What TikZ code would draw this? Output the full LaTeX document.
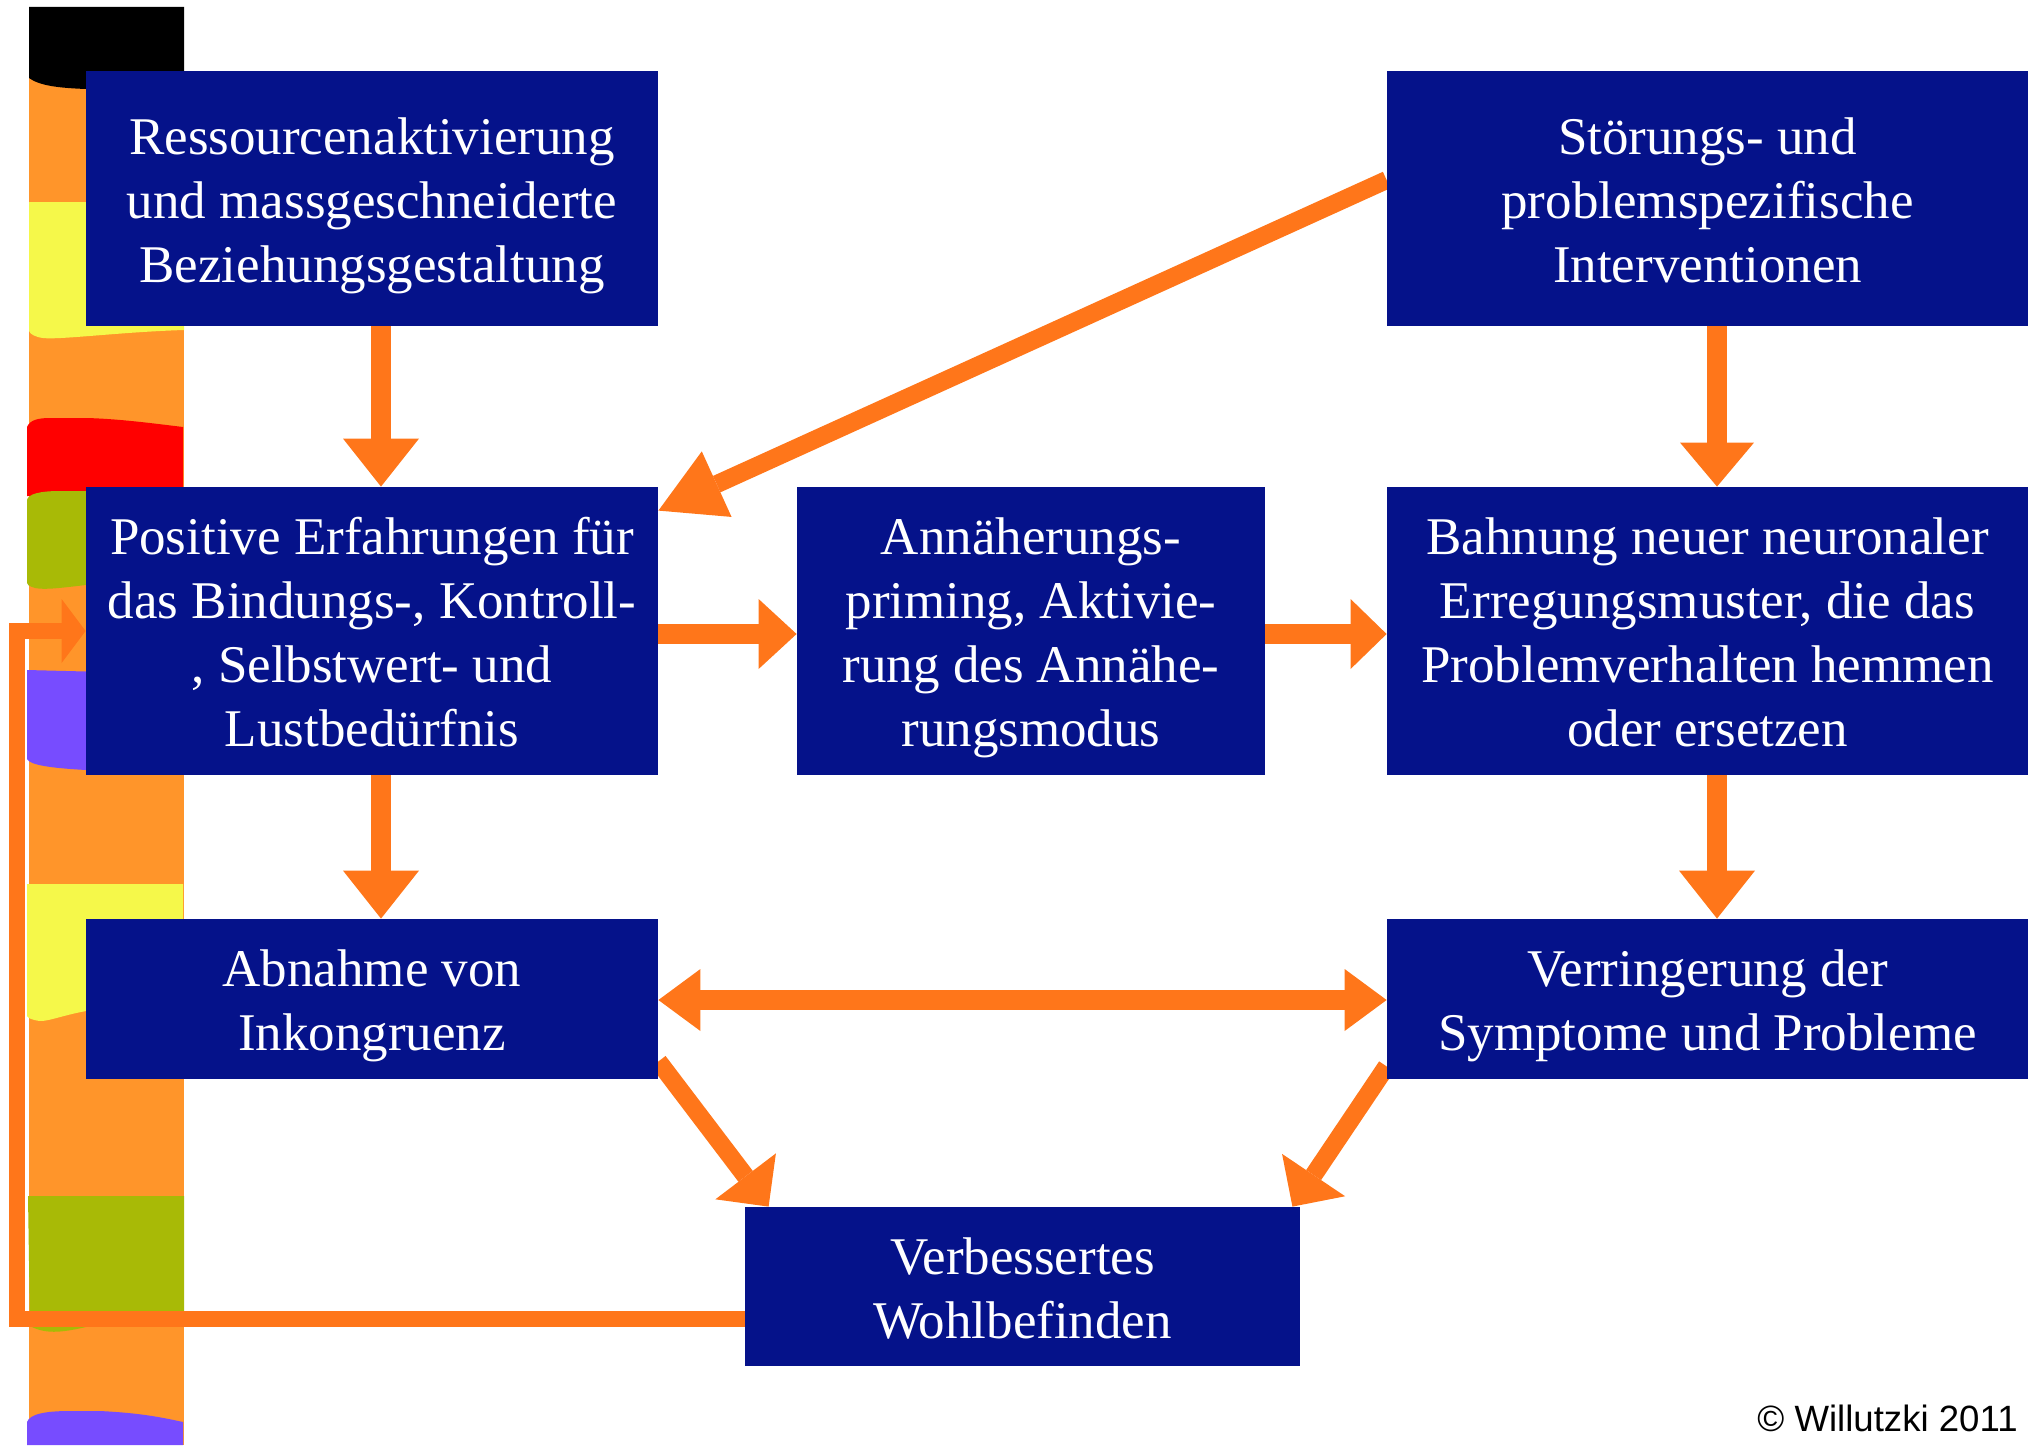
\documentclass[tikz,border=0pt]{standalone}
\usepackage{fontspec}
\setmainfont{Liberation Serif}
\newfontfamily\arialfont{Liberation Sans}
\usetikzlibrary{arrows.meta}
\definecolor{boxblue}{RGB}{5,18,138}
\definecolor{arrorange}{RGB}{255,118,26}
\definecolor{striporange}{RGB}{255,149,42}
\definecolor{stripyellow}{RGB}{245,248,74}
\definecolor{stripred}{RGB}{255,0,0}
\definecolor{stripolive}{RGB}{168,186,6}
\definecolor{strippurple}{RGB}{119,76,255}
\pgfdeclarelayer{bg}
\pgfsetlayers{bg,main}
\begin{document}
\begin{tikzpicture}[x=0.5pt,y=-0.5pt,
  box/.style={fill=boxblue, inner sep=0pt},
  boxtext/.style={text=white, inner sep=0pt, align=center, yshift=-3.5pt,
    font=\fontsize{26.5pt}{32pt}\selectfont},
  conn/.style={draw=arrorange, line width=10pt},
  vhead/.style={-{Triangle[length=24pt,width=38pt,line width=0pt]}},
  hhead/.style={-{Triangle[length=19pt,width=35pt,line width=0pt]}}
]
\useasboundingbox (0,0) rectangle (2038,1445);

% boxes
\node[box, minimum width=286pt, minimum height=127.5pt,
  label={[boxtext]center:{\strut Ressourcenaktivierung\\und massgeschneiderte\\Beziehungsgestaltung\strut}}]
  (R) at (372,198.5) {};
\node[box, minimum width=320.5pt, minimum height=127.5pt,
  label={[boxtext]center:{\strut Störungs- und\\problemspezifische\\Interventionen\strut}}]
  (S) at (1707.5,198.5) {};
\node[box, minimum width=286pt, minimum height=144pt,
  label={[boxtext]center:{\strut Positive Erfahrungen für\\das Bindungs-, Kontroll-\\, Selbstwert- und\\Lustbedürfnis\strut}}]
  (P) at (372,631) {};
\node[box, minimum width=234pt, minimum height=144pt,
  label={[boxtext]center:{\strut Annäherungs-\\priming, Aktivie-\\rung des Annähe-\\rungsmodus\strut}}]
  (A) at (1031,631) {};
\node[box, minimum width=320.5pt, minimum height=144pt,
  label={[boxtext]center:{\strut Bahnung neuer neuronaler\\Erregungsmuster, die das\\Problemverhalten hemmen\\oder ersetzen\strut}}]
  (B) at (1707.5,631) {};
\node[box, minimum width=286pt, minimum height=80pt,
  label={[boxtext]center:{\strut Abnahme von\\Inkongruenz\strut}}]
  (I) at (372,999) {};
\node[box, minimum width=320.5pt, minimum height=80pt,
  label={[boxtext]center:{\strut Verringerung der\\Symptome und Probleme\strut}}]
  (V) at (1707.5,999) {};
\node[box, minimum width=277.5pt, minimum height=79.5pt,
  label={[boxtext]center:{\strut Verbessertes\\Wohlbefinden\strut}}]
  (W) at (1022.5,1286.5) {};

\node[anchor=base east, inner sep=0pt, font=\arialfont\fontsize{18.3pt}{22pt}\selectfont]
  (copy) at (2018,1431) {© Willutzki 2011};

\coordinate (loopcorner) at (17,631);

\begin{pgfonlayer}{bg}
% colour strip
\fill[striporange] (29,7) rectangle (184,1445);
\fill[black] (29,7) -- (184,7) -- (184,90) -- (86,89)
  .. controls (60,88) and (40,86) .. (29,78) -- cycle;
\fill[stripyellow] (29,202) -- (184,202) -- (184,330)
  .. controls (120,332) and (60,340) .. (43,338)
  .. controls (35,337) and (30,334) .. (29,331) -- cycle;
\fill[stripred] (27,427) .. controls (30,420) and (38,418) .. (50,418)
  -- (87,418) .. controls (120,419) and (150,423) .. (183,427)
  -- (183,496) -- (27,496) -- cycle;
\fill[stripolive] (27,500) .. controls (28,494) and (40,491) .. (60,491)
  -- (184,491) -- (184,585) -- (86,585)
  .. controls (60,588) and (45,590) .. (35,588)
  .. controls (29,586) and (27,585) .. (27,583) -- cycle;
\fill[strippurple] (27,670) -- (184,674) -- (184,772) -- (86,770)
  .. controls (50,768) and (30,765) .. (27,759) -- cycle;
\fill[stripyellow] (27,884) -- (183,884) -- (183,1010) -- (86,1011)
  .. controls (60,1016) and (50,1021) .. (40,1021)
  .. controls (32,1020) and (28,1018) .. (27,1016) -- cycle;
\fill[stripolive] (28,1196) -- (184,1196) -- (184,1313) -- (86,1327)
  .. controls (60,1333) and (45,1334) .. (30,1326) -- cycle;
\fill[strippurple] (27,1422) .. controls (30,1414) and (45,1411) .. (70,1411)
  -- (100,1411) .. controls (140,1413) and (160,1417) .. (183,1422)
  -- (183,1445) -- (27,1445) -- cycle;

% connectors
\draw[conn, vhead] ([xshift=4.5pt]R.south) -- ([xshift=4.5pt]P.north);
\draw[conn, -{Triangle[length=22pt,width=37pt,line width=0pt]}]
  ([xshift=4.75pt]S.south) -- ([xshift=4.75pt]B.north);
\draw[conn, hhead] ([yshift=-1.5pt]P.east) -- ([yshift=-1.5pt]A.west);
\draw[conn, -{Triangle[length=18pt,width=35pt,line width=0pt]}]
  ([yshift=-1.5pt]A.east) -- ([yshift=-1.5pt]B.west);
\draw[conn, vhead] ([xshift=4.5pt]P.south) -- ([xshift=4.5pt]I.north);
\draw[conn, vhead] ([xshift=4.75pt]B.south) -- ([xshift=4.75pt]V.north);
\draw[conn, {Triangle[length=21pt,width=31pt,line width=0pt]}-{Triangle[length=21pt,width=31pt,line width=0pt]}]
  ([yshift=-0.5pt]I.east) -- ([yshift=-0.5pt]V.west);
\draw[conn, line width=9pt, -{Triangle[length=32pt,width=36pt,line width=0pt]}]
  ([yshift=9.25pt]S.west) -- ([yshift=-12pt]P.north east);
\draw[conn, line width=9pt, -{Triangle[length=19pt,width=38pt,line width=0pt]}]
  ([yshift=9pt]I.south east) -- ([xshift=12pt]W.north west);
\draw[conn, line width=9pt, -{Triangle[length=19pt,width=38pt,line width=0pt]}]
  ([yshift=6.5pt]V.south west) -- ([xshift=-4pt]W.north east);
\draw[conn, line width=8pt, -{Triangle[length=12pt,width=32pt,line width=0pt]}]
  ([yshift=-16pt]W.west) -| (loopcorner) -- (P.west);
\end{pgfonlayer}
\end{tikzpicture}
\end{document}
